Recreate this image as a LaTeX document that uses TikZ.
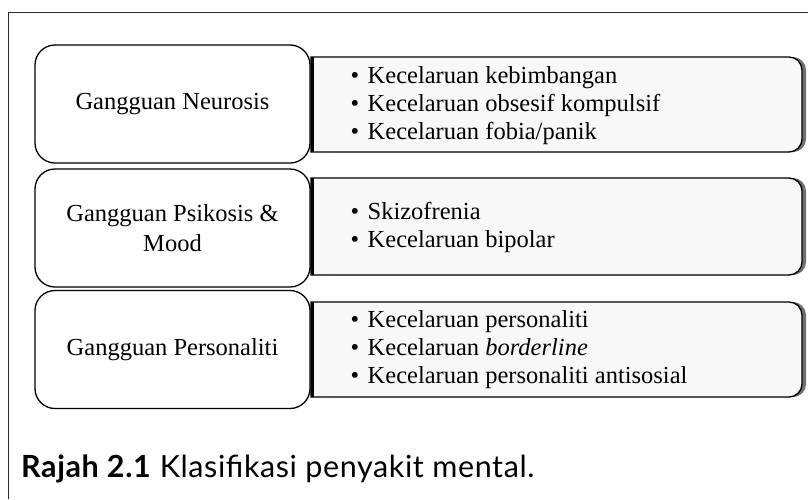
\documentclass[tikz,border=0pt]{standalone}
\usepackage{fontspec}
\setmainfont{Liberation Serif}
\newfontfamily\capfont[LetterSpace=2]{Lato}
\definecolor{boxfill}{HTML}{F9F8F9}
\definecolor{shadowc}{HTML}{707070}
\definecolor{framec}{HTML}{2A2A2A}
\begin{document}
\begin{tikzpicture}[x=1pt,y=-1pt,
  leftbox/.style={draw=black, line width=1.3pt, rounded corners=20pt, fill=white,
    minimum width=275pt, minimum height=118pt, align=center, inner sep=0pt,
    font=\fontsize{24.5}{30}\selectfont},
  listtext/.style={anchor=west, align=left, inner sep=0pt,
    font=\fontsize{24.5}{28}\selectfont},
  rbox/.style={draw=black, line width=1.3pt, fill=boxfill},
  rshadow/.style={fill=shadowc, draw=none}]
\useasboundingbox (0,0) rectangle (808,499);
% frame
\draw[framec, line width=1pt] (8,499) -- (8,12) -- (808,12);

% right boxes (shadow + box)
\foreach \t/\b in {57/152, 178/275, 302/397}{
  \fill[rshadow, rounded corners=13pt] (320,\t) -- (806,\t) -- (806,\b) -- (320,\b) -- cycle;
  \draw[rbox] (311,\b) -- (311,\t) [rounded corners=13pt] -- (802,\t) -- (802,\b) [sharp corners] -- (311,\b) -- cycle;
  \draw[black, line width=3.2pt] (312.5,\t) -- (312.5,\b);
}

% left boxes
\node[leftbox] (n1) at (172.5,104) {Gangguan Neurosis};
\node[leftbox] (n2) at (172.5,228) {Gangguan Psikosis \&\\Mood};
\node[leftbox] (n3) at (172.5,349.5) {Gangguan Personaliti};

% lists
\newcommand{\bitem}{\makebox[17pt][l]{\textbullet}}
\node[listtext] (l1) at (350.5,106) {\bitem Kecelaruan kebimbangan\\\bitem Kecelaruan obsesif kompulsif\\\bitem Kecelaruan fobia/panik};
\node[listtext] (l2) at (350.5,227) {\bitem Skizofrenia\\\bitem Kecelaruan bipolar};
\node[listtext] (l3) at (350.5,350) {\bitem Kecelaruan personaliti\\\bitem Kecelaruan \textit{borderline}\\\bitem Kecelaruan personaliti antisosial};

% caption
\node[anchor=base west, inner sep=0pt, font=\capfont\fontsize{30.5}{34}\selectfont] (cap) at (21,477) {\textbf{Rajah 2.1} Klasifikasi penyakit mental.};
\end{tikzpicture}
\end{document}
